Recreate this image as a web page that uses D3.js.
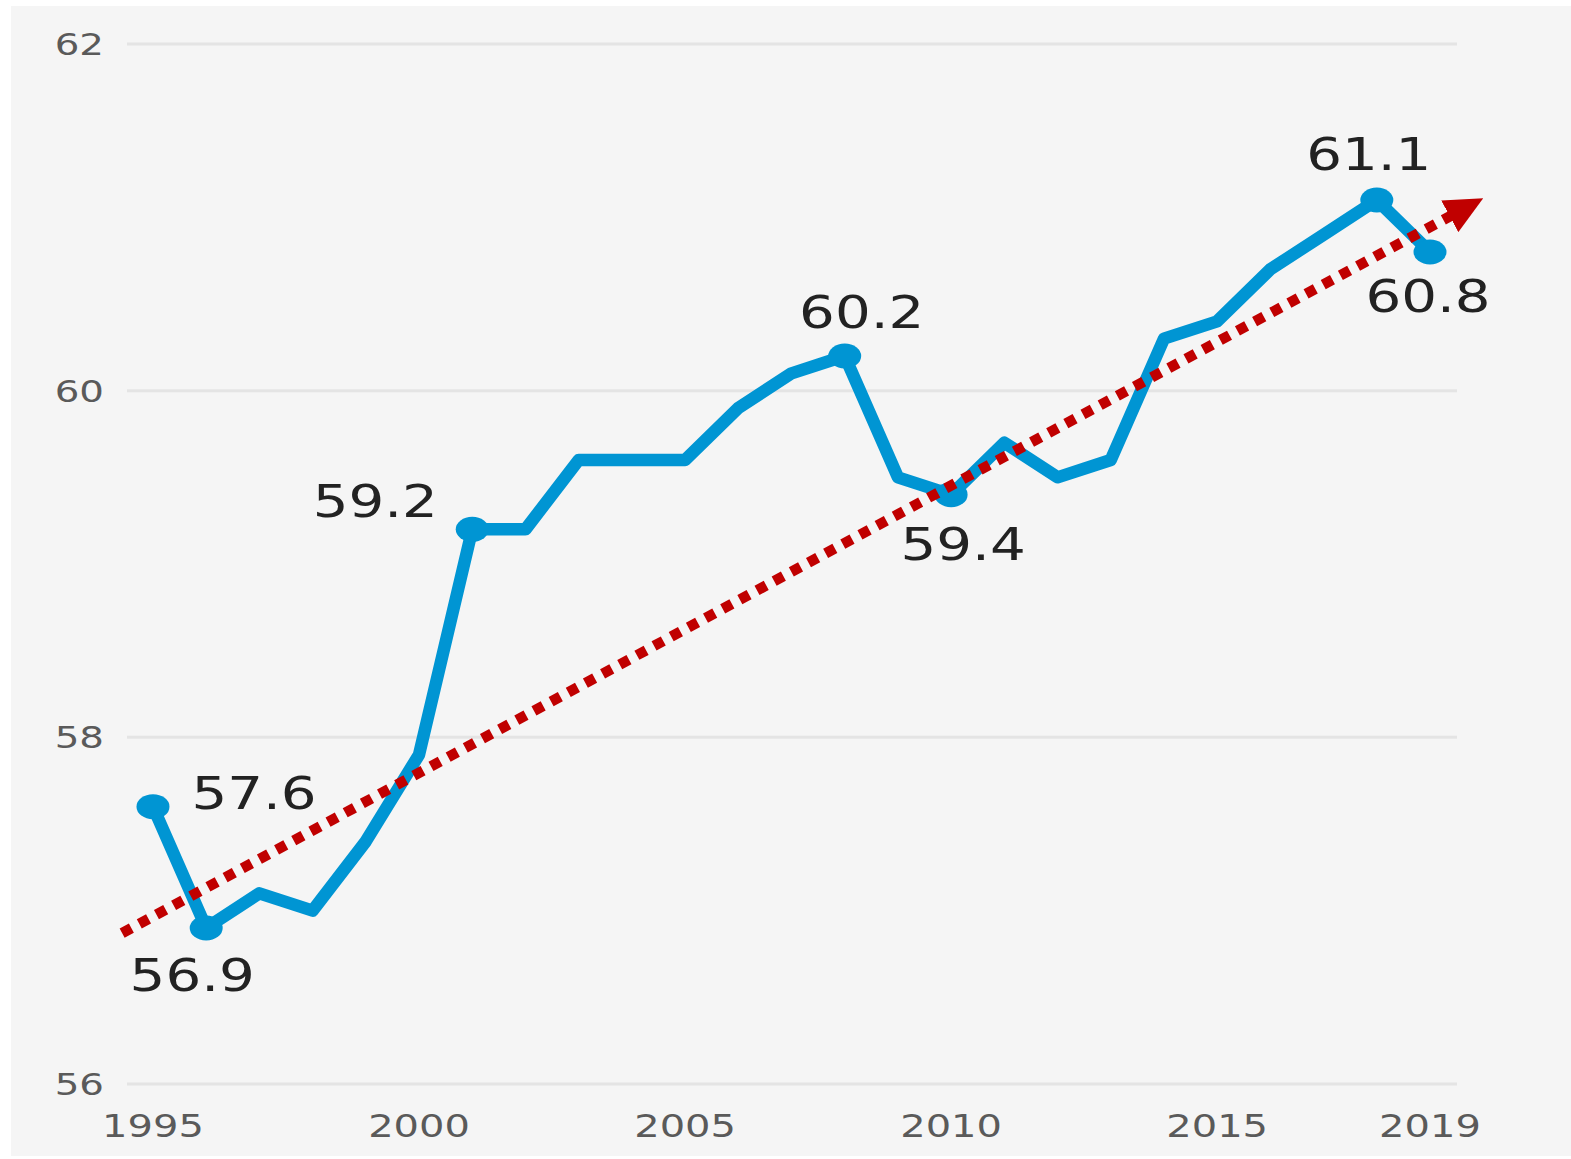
<!DOCTYPE html>
<html><head><meta charset="utf-8">
<script src="https://cdn.jsdelivr.net/npm/d3@7"></script>
<style>body{margin:0;background:#fff;} svg{display:block;}</style>
</head><body>
<svg id="c" width="1571" height="1159"></svg>
<script>
const years = [1995,1996,1997,1998,1999,2000,2001,2002,2003,2004,2005,2006,2007,2008,2009,2010,2011,2012,2013,2014,2015,2016,2017,2018,2019];
const values = [57.6,56.9,57.1,57.0,57.4,57.9,59.2,59.2,59.6,59.6,59.6,59.9,60.1,60.2,59.5,59.4,59.7,59.5,59.6,60.3,60.4,60.7,60.9,61.1,60.8];
const labeledYears = [1995,1996,2001,2008,2010,2018,2019];
const yTicks = [56,58,60,62];
const xTicks = [1995,2000,2005,2010,2015,2019];
const trendYears = [1994.42, 2020.0];
const trendValues = [56.87, 61.11];

// label placement (pixel offsets from the point)
const labelOffsets = {1995:[101,2],1996:[-14,63],2001:[-97,-12],2008:[17,-28],2010:[12,65],2018:[-8,-30],2019:[-2,60]};

const svg = d3.select('#c');
const SX = 1.25;
svg.append('rect').attr('x',11).attr('y',6).attr('width',1560).attr('height',1150).attr('fill','#f5f5f5');

const x = d3.scaleLinear().domain([1995,2019]).range([153,1430]);
const y = d3.scaleLinear().domain([56,62]).range([1084,44]);

// grid
svg.append('g').selectAll('line').data(yTicks).join('line')
  .attr('x1',127).attr('x2',1457).attr('y1',d=>y(d)).attr('y2',d=>y(d))
  .attr('stroke','#e4e4e4').attr('stroke-width',3);

function stretchedText(g, tx, ty, txt, size, color, anchor){
  g.append('text').attr('transform',`translate(${tx},${ty}) scale(${SX},1)`)
    .attr('text-anchor',anchor).attr('font-family','DejaVu Sans, Verdana, sans-serif')
    .attr('font-size',size).attr('fill',color).text(txt);
}
const tg = svg.append('g');
yTicks.forEach(t=>stretchedText(tg,104,y(t)+11,String(t),31,'#5a5a5a','end'));
xTicks.forEach(t=>stretchedText(tg,x(t),1137,String(t),32,'#5a5a5a','middle'));

// line
const pts = years.map((yr,i)=>({yr,v:values[i]}));
svg.append('path').datum(pts)
  .attr('d',d3.line().x(d=>x(d.yr)).y(d=>y(d.v)))
  .attr('fill','none').attr('stroke','#0095d3').attr('stroke-width',12.5).attr('stroke-linejoin','round');

svg.append('g').selectAll('ellipse').data(pts.filter(p=>labeledYears.includes(p.yr))).join('ellipse')
  .attr('cx',d=>x(d.yr)).attr('cy',d=>y(d.v)).attr('rx',16.5).attr('ry',12.5).attr('fill','#0095d3');

// trend
const defs = svg.append('defs');
defs.append('marker').attr('id','arr').attr('markerUnits','userSpaceOnUse')
  .attr('viewBox','0 0 38 36').attr('refX',38).attr('refY',18).attr('markerWidth',38).attr('markerHeight',36)
  .attr('orient','auto')
  .append('path').attr('d','M0,0 L38,18 L0,36 Z').attr('fill','#c00000');

const tx0=x(trendYears[0]), ty0=y(trendValues[0]), tx1=x(trendYears[1]), ty1=y(trendValues[1]);
const L = Math.hypot(tx1-tx0, ty1-ty0);
const cut = 34/L;
svg.append('line').attr('x1',tx0).attr('y1',ty0)
  .attr('x2',tx0+(tx1-tx0)*(1-cut)).attr('y2',ty0+(ty1-ty0)*(1-cut))
  .attr('stroke','#c00000').attr('stroke-width',10.5).attr('stroke-dasharray','10.5,9');
svg.append('line').attr('x1',tx0+(tx1-tx0)*(1-cut)).attr('y1',ty0+(ty1-ty0)*(1-cut))
  .attr('x2',tx1).attr('y2',ty1).attr('stroke','none').attr('marker-end','url(#arr)');

// labels
const lg = svg.append('g');
pts.filter(p=>labeledYears.includes(p.yr)).forEach(p=>{
  const o = labelOffsets[p.yr];
  stretchedText(lg, x(p.yr)+o[0], y(p.v)+o[1], p.v.toFixed(1), 45, '#222', 'middle');
});
</script>
</body></html>
